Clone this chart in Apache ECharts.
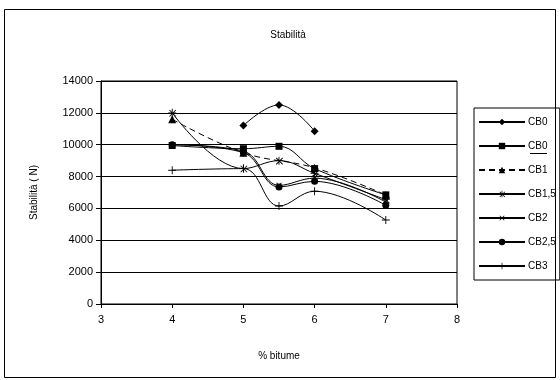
<!DOCTYPE html>
<html>
<head>
<meta charset="utf-8">
<script src="https://cdn.jsdelivr.net/npm/echarts@6/dist/echarts.min.js"></script>
<style>
html,body{margin:0;padding:0;background:#fff;}
#main{width:560px;height:380px;}
</style>
</head>
<body>
<div id="main"></div>
<script>
// valori (% bitume , stabilità N)
var cb0 = [[5, 11200], [5.5, 12500], [6, 10850]];
var cb0b = [[4, 9950], [5, 9750], [5.5, 9900], [6, 8500], [7, 6850]];
var cb1 = [[4, 11600], [5, 9500], [6, 8550], [7, 6850]];
var cb15 = [[4, 12000], [5, 8500], [5.5, 9000], [6, 8200], [7, 6550]];
var cb2 = [[4, 10000], [5, 9600], [5.5, 7450], [6, 7900], [7, 6400]];
var cb25 = [[4, 10000], [5, 9500], [5.5, 7350], [6, 7700], [7, 6200]];
var cb3 = [[4, 8400], [5, 8500], [5.5, 6150], [6, 7080], [7, 5270]];
var yTicks = [0, 2000, 4000, 6000, 8000, 10000, 12000, 14000];

var plus = 'path://M4,0h1v9h-1z M0,4h9v1h-9z';
var star = 'path://M4,0h1v9h-1z M0,4h9v1h-9z M1,1.7l0.7,-0.7l7.3,7.3l-0.7,0.7z M8.3,1l0.7,0.7l-7.3,7.3l-0.7,-0.7z';

function serie(name, data, symbol, size, lineType, rotate) {
	return {
		name: name,
		type: 'line',
		data: data,
		smooth: 0.4,
		symbol: symbol,
		symbolSize: size,
		symbolRotate: rotate || 0,
		showAllSymbol: true,
		itemStyle: {color: '#000'},
		lineStyle: {color: '#000', width: 1, type: lineType || 'solid'},
		emphasis: {disabled: true}
	};
}

var myChart = echarts.init(document.getElementById('main'));
var option = {
	animation: false,
	textStyle: {fontFamily: 'Liberation Sans'},
	title: {
		text: 'Stabilità',
		left: 283, top: 25, textAlign: 'center',
		textStyle: {fontSize: 10, fontWeight: 'normal', color: '#000'}
	},
	grid: {left: 101, right: 103, top: 81, bottom: 76, show: true, borderColor: '#000', borderWidth: 1},
	legend: {
		orient: 'vertical',
		left: 474, top: 108,
		width: 82,
		padding: [9, 4, 9, 4],
		itemGap: 14,
		itemWidth: 46, itemHeight: 8,
		borderColor: '#000', borderWidth: 1,
		textStyle: {fontSize: 10, color: '#000', padding: [0, 0, 0, -2]},
		formatter: function (n) { return n.trim(); },
		data: ['CB0', 'CB0 ', 'CB1', 'CB1,5', 'CB2', 'CB2,5', 'CB3']
	},
	xAxis: {
		type: 'value', min: 3, max: 8, interval: 1,
		name: '% bitume', nameLocation: 'middle', nameGap: 47,
		nameTextStyle: {fontSize: 10, color: '#000'},
		axisLine: {lineStyle: {color: '#000'}},
		axisTick: {show: true, length: 4, lineStyle: {color: '#000'}},
		axisLabel: {fontSize: 11, color: '#000', margin: 10},
		splitLine: {show: false}
	},
	yAxis: {
		type: 'value', min: 0, max: 14000, interval: 2000,
		name: 'Stabilità ( N)', nameLocation: 'middle', nameGap: 62,
		nameTextStyle: {fontSize: 10, color: '#000'},
		axisLine: {show: true, lineStyle: {color: '#000'}},
		axisTick: {show: true, length: 5, lineStyle: {color: '#000'}},
		axisLabel: {fontSize: 11, color: '#000', margin: 8,
			formatter: function (v) { return yTicks.indexOf(v) >= 0 ? String(v) : ''; }},
		splitLine: {show: true, lineStyle: {color: '#000', width: 1}}
	},
	graphic: [
		{type: 'rect', shape: {x: 4.5, y: 9.5, width: 551, height: 368}, style: {fill: 'none', stroke: '#000', lineWidth: 1}, silent: true},
		{type: 'line', shape: {x1: 530, y1: 153.5, x2: 547, y2: 153.5}, style: {stroke: '#000', lineWidth: 1}, silent: true}
	],
	series: [
		serie('CB0', cb0, 'diamond', 8),
		serie('CB0 ', cb0b, 'rect', 7),
		serie('CB1', cb1, 'triangle', 8, [6, 4]),
		serie('CB1,5', cb15, star, 8),
		serie('CB2', cb2, plus, 7, 'solid', 45),
		serie('CB2,5', cb25, 'circle', 7),
		serie('CB3', cb3, plus, 8)
	]
};
myChart.setOption(option);
</script>
</body>
</html>
